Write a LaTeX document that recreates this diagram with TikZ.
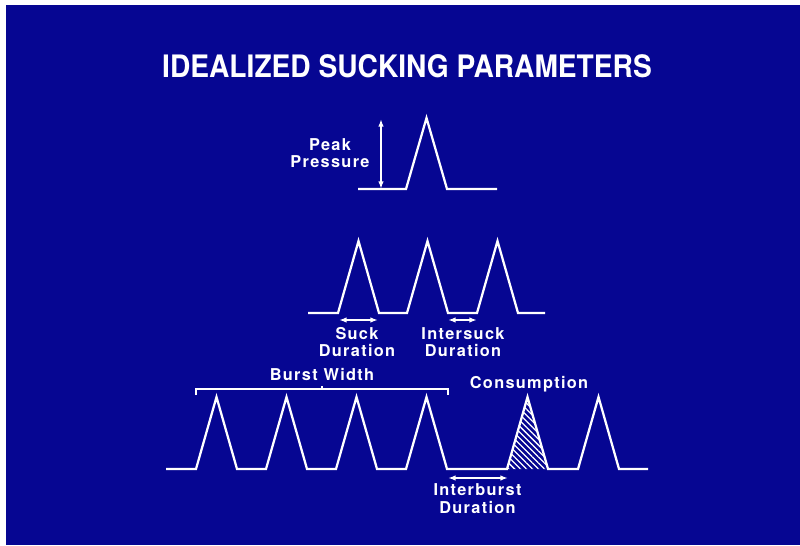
\documentclass[tikz,border=0pt]{standalone}
\usepackage{fontspec}
\setmainfont{TeX Gyre Heros}
\newfontfamily\labelfont[LetterSpace=8]{TeX Gyre Heros}
\usetikzlibrary{arrows.meta,patterns.meta}
\definecolor{slideblue}{RGB}{6,6,146}

\begin{document}
\begin{tikzpicture}[x=0.025cm,y=-0.025cm,
    signal/.style={white,line width=1.6pt,line join=miter},
    measure/.style={white,line width=1.1pt,{Latex[length=5.5pt,width=4pt]}-{Latex[length=5.5pt,width=4pt]}},
    lbl/.style={text=white,font=\labelfont\bfseries\fontsize{11.6}{12.6}\selectfont,align=center,inner sep=0pt}]
    % slide frame
    \fill[white] (0,0) rectangle (800,545);
    \fill[slideblue] (6,5) rectangle (800,545);
    \useasboundingbox (0,0) rectangle (800,545);

    \node[text=white,font=\bfseries\fontsize{22}{24}\selectfont,xscale=0.91,anchor=base] (title) at (407,77.5) {IDEALIZED SUCKING PARAMETERS};

    % single suck
    \draw[signal] (358,189) -- (406,189) -- (426.5,118) -- (447,189) -- (497,189);
    \coordinate (pk top) at (381,119);
    \coordinate (pk bot) at (381,189);
    \draw[measure] (pk bot) -- (pk top);
    \node[lbl] (peak) at (330,153) {Peak\\Pressure};

    % sucks
    \draw[signal] (308,313) \foreach \x in {338,407,477} {-- (\x,313) -- ++(20.5,-72) -- ++(20.5,72)} -- (545,313);
    \coordinate (sk a) at (339,320);
    \coordinate (sk b) at (378,320);
    \coordinate (is a) at (448,320);
    \coordinate (is b) at (477,320);
    \draw[measure] (sk a) -- (sk b);
    \draw[measure] (is a) -- (is b);
    \node[lbl] (suck) at (357,342) {Suck\\Duration};
    \node[lbl] (intersuck) at (463,342) {Intersuck\\Duration};

    % bursts
    \fill[pattern={Lines[angle=-45,distance=3pt,line width=0.9pt]},pattern color=white] (507,469) -- (527.5,397) -- (548,469) -- cycle;
    \draw[signal] (166,469) \foreach \x in {196,266,336,406,507,578} {-- (\x,469) -- ++(20.5,-72) -- ++(20.5,72)} -- (648,469);
    \draw[white,line width=1.2pt] (196,395) -- (196,389) -- (448,389) -- (448,395);
    \draw[white,line width=1.6pt] (322,389) -- (322,385.5);
    \node[lbl,anchor=base] (burst) at (322,380) {Burst Width};
    \node[lbl,anchor=base] (consumption) at (529,388) {Consumption};
    \coordinate (ib a) at (448,478);
    \coordinate (ib b) at (508,478);
    \draw[measure] (ib a) -- (ib b);
    \node[lbl] (interburst) at (477.5,498.5) {Interburst\\Duration};
\end{tikzpicture}
\end{document}
